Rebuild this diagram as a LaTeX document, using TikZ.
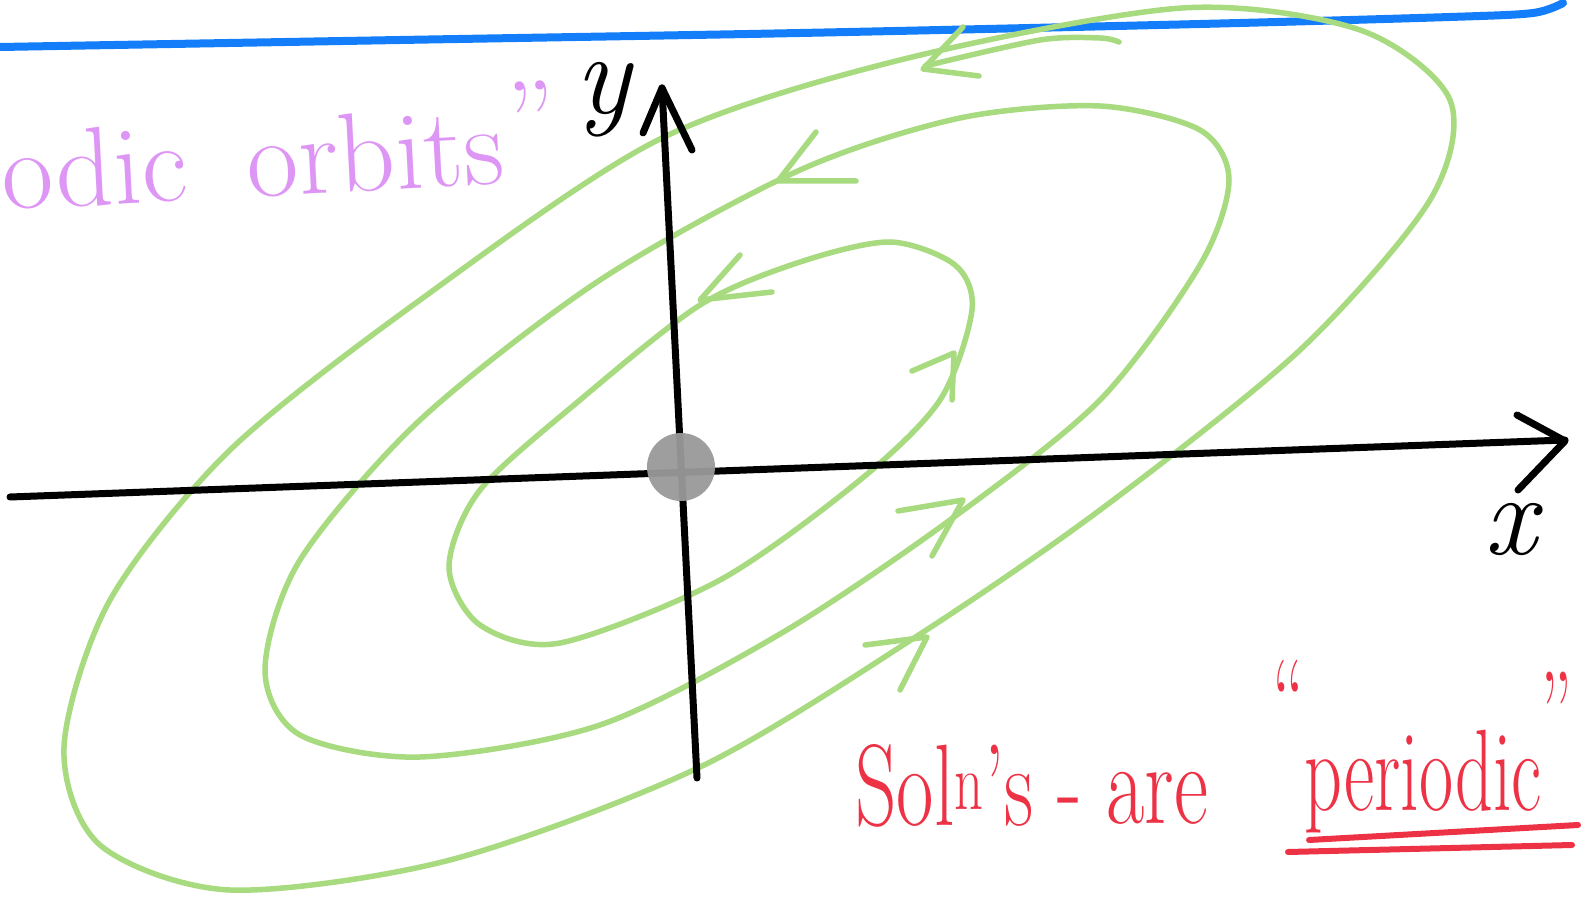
\documentclass[tikz,border=0pt]{standalone}
\usepackage{fontspec}
\definecolor{penblue}{RGB}{20,125,250}
\definecolor{pengreen}{RGB}{168,218,128}
\definecolor{penred}{RGB}{238,50,70}
\definecolor{penpurple}{RGB}{222,150,245}

\begin{document}
\begin{tikzpicture}[x=0.02cm, y=-0.02cm, line cap=round, line join=round,
        orbit/.style={draw=pengreen, line width=0.11cm},
        axis/.style={draw=black, line width=0.14cm},
        purpnote/.style={text=penpurple, font=\fontsize{64}{64}\selectfont, inner sep=0pt},
        rednote/.style={text=penred, font=\fontsize{66}{66}\selectfont, inner sep=0pt},
        axlabel/.style={font=\fontsize{66}{66}\selectfont\itshape, inner sep=0pt}]
            \useasboundingbox (0,0) rectangle (1582,898);
            \draw[penblue, line width=0.16cm] plot[smooth] coordinates {(0,47) (400,40) (800,33) (1200,24) (1450,17) (1533,13) (1563,3)};
            \draw[orbit] plot[smooth cycle] coordinates {(1182,8) (1360,30) (1450,100) (1430,200) (1300,350) (1100,510) (914,638) (700,767) (450,860) (230,890) (100,845) (64,747) (110,600) (230,450) (420,300) (658,140) (900,60)};
            \draw[orbit] plot[smooth] coordinates {(925,66) (1040,40) (1100,38) (1119,42)};
            \draw[orbit] plot[smooth cycle] coordinates {(1100,106) (1200,130) (1229,180) (1200,265) (1100,400) (950,520) (780,634) (600,725) (420,757) (300,735) (265,670) (300,560) (420,420) (600,280) (800,170) (960,118)};
            \draw[orbit] plot[smooth cycle] coordinates {(890,242) (955,265) (972,310) (940,400) (860,480) (720,580) (560,643) (480,625) (449,567) (480,490) (580,400) (700,305) (800,262)};
            \draw[orbit] (963,27) -- (923,69) -- (979,76);
            \draw[orbit] (816,132) -- (778,181) -- (856,181);
            \draw[orbit] (740,255) -- (700,300) -- (772,292);
            \draw[orbit] (912,371) -- (954,353) -- (952,400);
            \draw[orbit] (898,511) -- (963,500) -- (932,556);
            \draw[orbit] (865,645) -- (927,637) -- (900,690);
            \draw[axis] (10,497) -- (1565,440);
            \draw[axis] (1517,415) -- (1565,441) -- (1518,490);
            \draw[axis] (697,778) -- (662,88);
            \draw[axis] (643,133) -- (662,88) -- (692,150);
            \node[circle, fill=gray!80, opacity=0.95, minimum size=1.36cm, inner sep=0pt] (origin) at (681,467) {};
            \node[axlabel] (ylab) at (603,100) {y};
            \node[axlabel] (xlab) at (1511,530) {x};
            \node[purpnote, anchor=base west, rotate=3] (orbits) at (3,210) {odic\hspace{1.2cm}orbits\kern0.1cm\raisebox{0.45cm}{''}};
            \node[rednote, anchor=base west] (sols) at (855,825) {\scalebox{0.7}[1]{Sol\textsuperscript{n}'s -}};
            \node[rednote, anchor=base west] (are) at (1106,823) {\scalebox{0.72}[1]{are}};
            \node[rednote, anchor=base west] (periodic) at (1272,810) {\scalebox{0.64}[1]{\raisebox{1.4cm}{``}periodic\kern-0.05cm\raisebox{1.15cm}{''}}};
            \draw[penred, line width=0.12cm] (1309,840) -- (1578,825);
            \draw[penred, line width=0.12cm] (1288,852) -- (1572,845);
\end{tikzpicture}
\end{document}
